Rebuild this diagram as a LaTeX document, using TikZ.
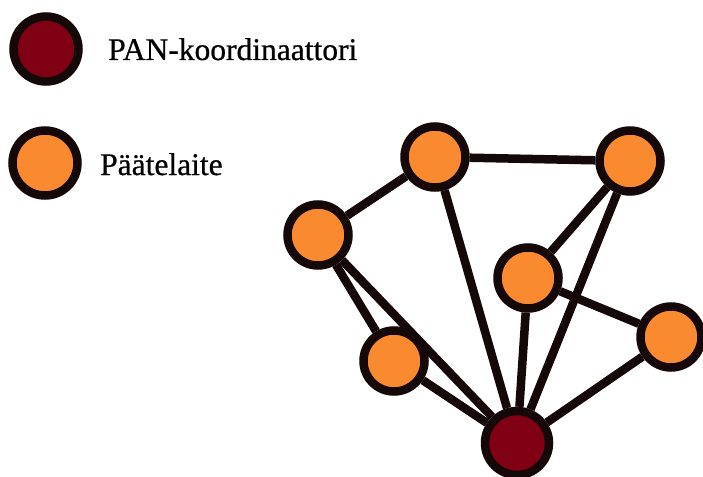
\documentclass[tikz,border=0pt]{standalone}
\usepackage{fontspec}
\setmainfont{Liberation Serif}
\newfontfamily\legfont[FakeBold=0.7]{Liberation Serif}
\definecolor{coordred}{RGB}{128,0,20}
\definecolor{devorange}{RGB}{250,138,48}
\definecolor{rimblack}{RGB}{20,8,8}
\begin{document}
\begin{tikzpicture}[x=1pt,y=-1pt,
  dev/.style={circle,draw=rimblack,line width=8.5pt,fill=devorange,minimum size=61pt,inner sep=0pt},
  coord/.style={circle,draw=rimblack,line width=8.5pt,fill=coordred,minimum size=64pt,inner sep=0pt},
  link/.style={draw=rimblack,line width=8.5pt},
  legtext/.style={anchor=base west,inner sep=0pt,font=\legfont\fontsize{31.5}{36}\selectfont}]
\useasboundingbox[fill=white] (0,0) rectangle (703,476);
% legend
\node[coord,minimum size=65pt] (lc) at (46,49) {};
\node[legtext] (lct) at (108,60) {PAN-koordinaattori};
\node[dev,minimum size=65pt] (ld) at (45,163) {};
\node[legtext] (ldt) at (100,175) {Päätelaite};
% network
\node[dev] (A) at (435,157) {};
\node[dev] (B) at (630,161) {};
\node[dev] (C) at (318,235) {};
\node[dev] (D) at (528,278) {};
\node[dev] (E) at (671,337) {};
\node[dev] (F) at (394,361) {};
\node[coord] (G) at (517,443) {};
\draw[link] (A) -- (B);
\draw[link] (A) -- (C);
\draw[link] (A) -- (G);
\draw[link] (B) -- (D);
\draw[link] (B) -- (G);
\draw[link] (C) -- (F);
\draw[link] (C) -- (G);
\draw[link] (D) -- (E);
\draw[link] (D) -- (G);
\draw[link] (E) -- (G);
\draw[link] (F) -- (G);
\end{tikzpicture}
\end{document}
